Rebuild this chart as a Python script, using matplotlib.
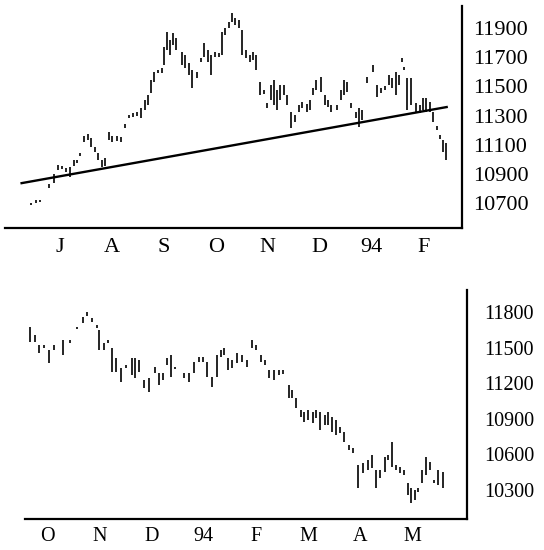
import matplotlib
matplotlib.use('Agg')
import matplotlib.pyplot as plt

plt.rcParams['font.family'] = ['Liberation Serif', 'DejaVu Serif']

# ---- top chart: Jul 1993 - Feb 1994 (x in months from 1 Jul 1993)
top_x = [-0.05, 0.03, 0.11, 0.29, 0.38, 0.46, 0.54, 0.62, 0.69, 0.77, 0.83, 0.89,
         0.97, 1.04, 1.10, 1.18, 1.24, 1.30, 1.36, 1.44, 1.51, 1.59, 1.67, 1.75,
         1.82, 1.90, 1.98, 2.06, 2.13, 2.19, 2.25, 2.31, 2.38, 2.46, 2.50, 2.56,
         2.62, 2.68, 2.74, 2.85, 2.91, 2.99, 3.05, 3.13, 3.21, 3.28, 3.36, 3.40,
         3.48, 3.56, 3.62, 3.67, 3.75, 3.81, 3.88, 3.94, 4.00, 4.08, 4.16, 4.22,
         4.28, 4.35, 4.43, 4.49, 4.57, 4.63, 4.68, 4.74, 4.82, 4.88, 4.96, 5.02,
         5.10, 5.17, 5.25, 5.31, 5.37, 5.44, 5.52, 5.60, 5.66, 5.73, 5.83, 5.91,
         5.97, 6.03, 6.10, 6.20, 6.26, 6.32, 6.41, 6.53, 6.61, 6.69, 6.76, 6.84,
         6.90, 6.97, 7.04, 7.08, 7.13, 7.19, 7.27, 7.35, 7.43, 7.50, 7.56, 7.62,
         7.68, 7.76, 7.82, 7.87, 7.93]
top_high = [10700, 10721, 10721, 10830, 10899, 10961, 10954, 10940, 10947, 10995, 10995, 11043,
            11159, 11173, 11146, 11084, 11043, 10995, 11009, 11187, 11159, 11159, 11153, 11242,
            11303, 11317, 11324, 11351, 11406, 11441, 11543, 11598, 11612, 11626, 11770, 11873,
            11818, 11866, 11831, 11735, 11715, 11660, 11612, 11598, 11694, 11797, 11749, 11715,
            11735, 11728, 11873, 11900, 11941, 12003, 11969, 11955, 11886, 11749, 11715, 11735,
            11715, 11530, 11475, 11386, 11509, 11543, 11475, 11509, 11509, 11441, 11324, 11303,
            11372, 11393, 11379, 11406, 11489, 11543, 11564, 11441, 11406, 11372, 11372, 11475,
            11543, 11530, 11386, 11324, 11351, 11338, 11564, 11646, 11509, 11489, 11502, 11578,
            11557, 11598, 11578, 11694, 11633, 11557, 11557, 11386, 11372, 11420, 11420, 11393,
            11324, 11228, 11166, 11132, 11111]
top_low = [10686, 10700, 10707, 10803, 10837, 10926, 10933, 10913, 10878, 10954, 10974, 11022,
           11118, 11132, 11084, 11050, 10995, 10947, 10954, 11132, 11118, 11125, 11118, 11214,
           11283, 11290, 11297, 11283, 11338, 11372, 11454, 11530, 11591, 11591, 11646, 11749,
           11715, 11783, 11749, 11646, 11626, 11578, 11489, 11557, 11667, 11701, 11667, 11578,
           11701, 11701, 11715, 11852, 11900, 11941, 11921, 11900, 11715, 11694, 11667, 11681,
           11612, 11441, 11447, 11351, 11406, 11372, 11338, 11406, 11441, 11372, 11214, 11255,
           11324, 11351, 11324, 11338, 11441, 11475, 11461, 11372, 11358, 11324, 11338, 11406,
           11441, 11461, 11351, 11283, 11221, 11269, 11523, 11598, 11427, 11454, 11475, 11509,
           11489, 11441, 11509, 11667, 11612, 11338, 11372, 11324, 11317, 11338, 11324, 11324,
           11255, 11201, 11139, 11050, 10995]
trend_x = [-0.24, 7.95]
trend_y = [10837, 11358]
top_months = ['J', 'A', 'S', 'O', 'N', 'D', '94', 'F']
top_yticks = [10700, 10900, 11100, 11300, 11500, 11700, 11900]

# ---- bottom chart: Oct 1993 - May 1994 (x in months from 1 Oct 1993)
bot_x = [0.16, 0.25, 0.33, 0.42, 0.52, 0.61, 0.79, 0.92, 1.05, 1.17, 1.26, 1.34,
         1.44, 1.49, 1.57, 1.65, 1.74, 1.80, 1.91, 2.01, 2.11, 2.18, 2.26, 2.35,
         2.45, 2.55, 2.64, 2.72, 2.79, 2.87, 2.95, 3.12, 3.21, 3.31, 3.41, 3.48,
         3.56, 3.65, 3.75, 3.83, 3.88, 3.96, 4.04, 4.13, 4.23, 4.32, 4.42, 4.50,
         4.59, 4.67, 4.75, 4.84, 4.94, 5.03, 5.13, 5.20, 5.28, 5.36, 5.43, 5.51,
         5.59, 5.66, 5.74, 5.82, 5.89, 5.97, 6.04, 6.12, 6.20, 6.29, 6.37, 6.46,
         6.56, 6.66, 6.73, 6.81, 6.89, 6.98, 7.04, 7.12, 7.19, 7.27, 7.34, 7.42,
         7.48, 7.56, 7.61, 7.69, 7.77, 7.84, 7.92, 8.00, 8.09]
bot_high = [11674, 11606, 11522, 11522, 11480, 11522, 11564, 11564, 11674, 11758, 11800, 11750,
            11690, 11648, 11539, 11564, 11497, 11412, 11328, 11353, 11412, 11412, 11396, 11227,
            11244, 11337, 11286, 11286, 11412, 11438, 11337, 11286, 11286, 11379, 11421, 11421,
            11379, 11252, 11438, 11480, 11497, 11412, 11396, 11454, 11438, 11396, 11564, 11522,
            11438, 11396, 11311, 11311, 11311, 11311, 11185, 11143, 11075, 10974, 10957, 10974,
            10957, 10974, 10957, 10932, 10957, 10915, 10890, 10831, 10789, 10679, 10654, 10511,
            10528, 10553, 10595, 10469, 10469, 10578, 10595, 10704, 10511, 10494, 10469, 10359,
            10317, 10300, 10317, 10469, 10578, 10536, 10384, 10469, 10452]
bot_low = [11547, 11547, 11454, 11497, 11370, 11480, 11438, 11539, 11657, 11707, 11766, 11716,
           11665, 11480, 11480, 11539, 11294, 11294, 11210, 11328, 11269, 11244, 11294, 11160,
           11126, 11286, 11185, 11227, 11353, 11252, 11320, 11244, 11210, 11286, 11379, 11379,
           11252, 11168, 11252, 11421, 11438, 11311, 11328, 11370, 11379, 11337, 11497, 11480,
           11379, 11353, 11244, 11227, 11269, 11277, 11075, 11075, 10991, 10915, 10873, 10890,
           10865, 10907, 10806, 10848, 10848, 10789, 10763, 10780, 10704, 10637, 10612, 10317,
           10443, 10469, 10485, 10317, 10401, 10452, 10553, 10494, 10469, 10443, 10426, 10258,
           10190, 10216, 10283, 10359, 10426, 10469, 10359, 10342, 10317]
bot_months = ['O', 'N', 'D', '94', 'F', 'M', 'A', 'M']
bot_yticks = [10300, 10600, 10900, 11200, 11500, 11800]


def style_axis(ax, months, yticks, fs, ypad, xpad):
    for side in ['left', 'top']:
        ax.spines[side].set_visible(False)
    for side in ['right', 'bottom']:
        ax.spines[side].set_linewidth(1.6)
    ax.yaxis.tick_right()
    ax.set_yticks(yticks)
    ax.set_yticklabels([str(v) for v in yticks])
    ax.set_xticks([i + 0.5 for i in range(len(months))])
    ax.set_xticklabels(months)
    ax.tick_params(axis='y', length=0, pad=ypad, labelsize=fs)
    ax.tick_params(axis='x', length=0, pad=xpad, labelsize=fs)


fig = plt.figure(figsize=(5.44, 5.5), dpi=100)

ax1 = fig.add_axes([0.0092, 0.5855, 0.840, 0.4036])
ax1.vlines(top_x, top_low, top_high, color='black', linewidth=1.2)
ax1.plot(trend_x, trend_y, color='black', linewidth=1.7)
ax1.set_xlim(-0.56, 8.245)
ax1.set_ylim(10530, 12050)
style_axis(ax1, top_months, top_yticks, 16, 8, 7)

ax2 = fig.add_axes([0.046, 0.0564, 0.8125, 0.4164])
ax2.vlines(bot_x, bot_low, bot_high, color='black', linewidth=1.2)
ax2.set_xlim(0.06, 8.56)
ax2.set_ylim(10056, 11985)
style_axis(ax2, bot_months, bot_yticks, 14.5, 12.5, 6)

fig.savefig('out.png', dpi=100)
